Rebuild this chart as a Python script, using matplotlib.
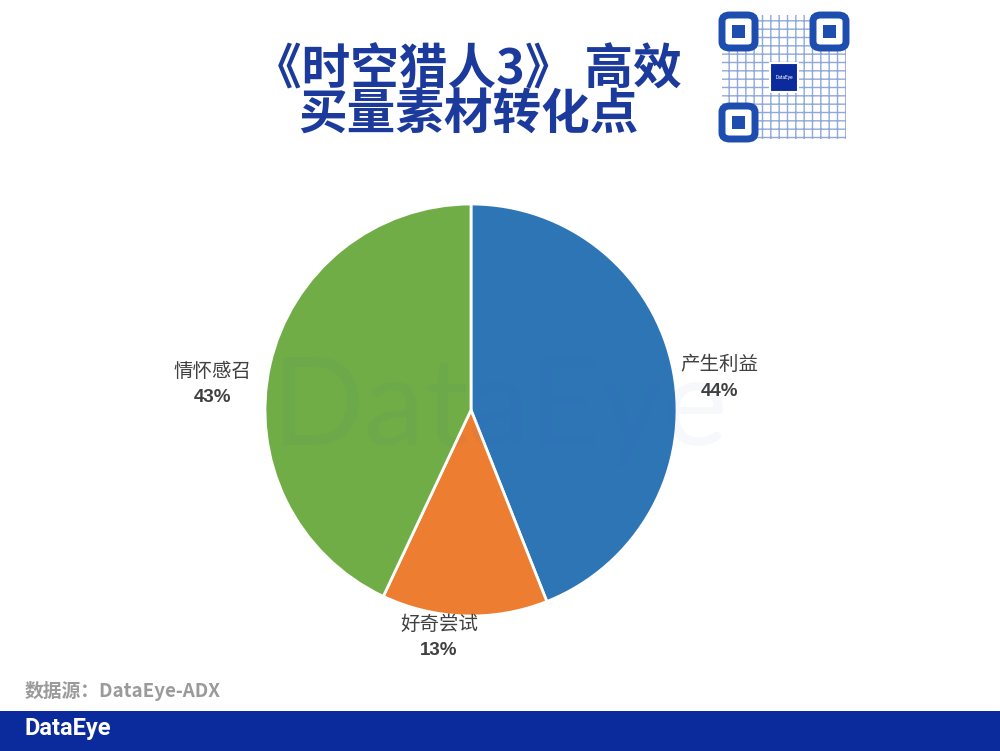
import matplotlib
matplotlib.use("Agg")
import matplotlib.pyplot as plt
from matplotlib.patches import Rectangle, FancyBboxPatch

# data
categories = ["产生利益", "好奇尝试", "情怀感召"]
shares = [44, 13, 43]
colors = ["#2E75B6", "#ED7D31", "#70AD47"]

title_lines = ["《时空猎人3》 高效", "买量素材转化点"]
source_text = "数据源：DataEye-ADX"

# label anchors (data coords of the pie axes, radius = 1)
label_pos = [(1.205, 0.155), (-0.155, -1.105), (-1.255, 0.125)]

plt.rcParams["font.family"] = ["Noto Sans CJK SC", "DejaVu Sans"]

fig = plt.figure(figsize=(10, 7.51), dpi=100)
fig.patch.set_facecolor("white")

# pie axes: square in pixels, centre at (471, 410) px, radius 206 px
cx, cy, r = 471 / 1000, 1 - 410 / 751, 206
ax = fig.add_axes([cx - r / 1000, cy - r / 751, 2 * r / 1000, 2 * r / 751])
wedges, _ = ax.pie(shares, colors=colors, startangle=90, counterclock=False,
                   radius=1, wedgeprops=dict(edgecolor="white", linewidth=2))
ax.set_xlim(-1, 1)
ax.set_ylim(-1, 1)
ax.set_aspect("equal")
ax.axis("off")

for name, val, (lx, ly) in zip(categories, shares, label_pos):
    ax.annotate(name, (lx, ly), xytext=(0, 9.5), textcoords="offset points",
                ha="center", va="center", fontsize=14, color="#404040",
                annotation_clip=False)
    ax.annotate(f"{val}%", (lx, ly), xytext=(0, -9.5), textcoords="offset points",
                ha="center", va="center", fontsize=13.5, color="#404040",
                fontweight="bold", family=["Liberation Sans", "DejaVu Sans"],
                annotation_clip=False)

# watermark
fig.text(0.50, 1 - 410 / 751, "DataEye", ha="center", va="center", fontsize=88,
         family=["Lato", "DejaVu Sans"], color="#1A50A8", alpha=0.035, zorder=5)

# title
title_color = "#1B3A9C"
fig.text(0.467, 1 - 70 / 751, title_lines[0], ha="center", va="center",
         fontsize=35, fontweight="bold", color=title_color)
fig.text(0.468, 1 - 115 / 751, title_lines[1], ha="center", va="center",
         fontsize=35, fontweight="bold", color=title_color)

# QR-code badge (decorative)
qr_blue = "#1E4DB0"
qx0, qy0, qs = 722, 15, 124
def px_box(x, y, w, h):
    return (x / 1000, 1 - (y + h) / 751, w / 1000, h / 751)

bx, by, bw, bh = px_box(qx0, qy0, qs, qs)
fig.patches.append(Rectangle((bx, by), bw, bh, transform=fig.transFigure,
                             facecolor="white", edgecolor="none",
                             hatch="++", linewidth=0, zorder=1))
fig.patches[-1].set_edgecolor("#8FA8DA")
for fx, fy in [(qx0, qy0), (qx0 + qs - 33, qy0), (qx0, qy0 + qs - 33)]:
    x, y, w, h = px_box(fx, fy, 33, 33)
    fig.patches.append(FancyBboxPatch((x, y), w, h, transform=fig.transFigure,
                                      boxstyle="round,pad=0,rounding_size=0.008",
                                      facecolor="white", edgecolor=qr_blue,
                                      linewidth=5, zorder=2))
    x, y, w, h = px_box(fx + 10, fy + 10, 13, 13)
    fig.patches.append(Rectangle((x, y), w, h, transform=fig.transFigure,
                                 facecolor=qr_blue, edgecolor="none", zorder=3))
x, y, w, h = px_box(770, 63, 28, 29)
fig.patches.append(Rectangle((x, y), w, h, transform=fig.transFigure,
                             facecolor="#0B2A9C", edgecolor="white", linewidth=1.5,
                             zorder=3))
fig.text(784 / 1000, 1 - 78 / 751, "DataEye", ha="center", va="center",
         fontsize=3.5, color="white", family=["Roboto", "DejaVu Sans"], zorder=4)

# source note
fig.text(25 / 1000, 1 - 691 / 751, source_text, ha="left", va="center",
         fontsize=13.5, fontweight="bold", color="#9A9A9A")

# bottom brand bar
fig.patches.append(Rectangle((0, 0), 1, 40 / 751, transform=fig.transFigure,
                             facecolor="#0B2A9C", edgecolor="none", zorder=1))
fig.text(25 / 1000, 1 - 729 / 751, "DataEye", ha="left", va="center",
         fontsize=17, fontweight="bold", color="white",
         family=["Roboto", "DejaVu Sans"], zorder=2)

fig.savefig("out.png", dpi=100, facecolor="white")
